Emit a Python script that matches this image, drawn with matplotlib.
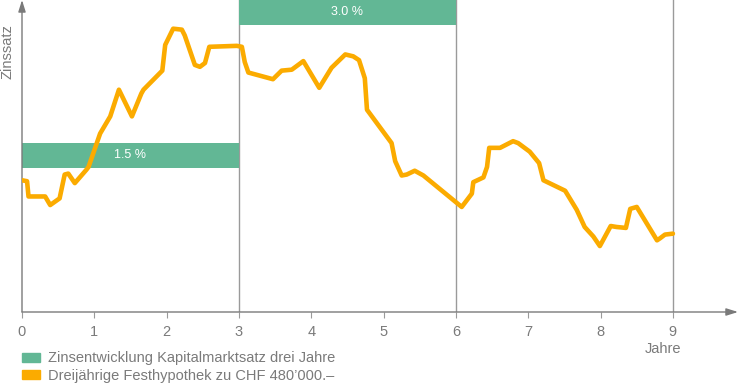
import matplotlib.pyplot as plt
from matplotlib.patches import Patch

plt.rcParams['font.family'] = ['Liberation Sans', 'DejaVu Sans']

# Dreijährige Festhypothek (Zinssatz in %, Jahre)
years = [0.00, 0.07, 0.09, 0.32, 0.39, 0.52, 0.59, 0.64, 0.73, 0.89, 0.92,
         1.08, 1.22, 1.34, 1.52, 1.65, 1.68, 1.94, 1.98, 2.09, 2.21, 2.25,
         2.39, 2.46, 2.53, 2.59, 2.97, 3.04, 3.08, 3.13, 3.47, 3.59, 3.73,
         3.89, 4.11, 4.28, 4.47, 4.58, 4.66, 4.74, 4.77, 5.11, 5.16, 5.25,
         5.32, 5.43, 5.55, 6.08, 6.22, 6.24, 6.38, 6.43, 6.46, 6.61, 6.79,
         6.86, 7.02, 7.15, 7.21, 7.51, 7.67, 7.78, 7.90, 7.99, 8.14, 8.22,
         8.35, 8.41, 8.50, 8.78, 8.82, 8.89, 9.00]
rate = [1.24, 1.23, 1.07, 1.07, 0.98, 1.05, 1.30, 1.31, 1.21, 1.35, 1.38,
        1.73, 1.91, 2.19, 1.91, 2.15, 2.19, 2.39, 2.66, 2.83, 2.82, 2.76,
        2.45, 2.43, 2.47, 2.64, 2.65, 2.64, 2.48, 2.37, 2.30, 2.39, 2.40,
        2.49, 2.21, 2.42, 2.56, 2.54, 2.50, 2.31, 1.98, 1.63, 1.44, 1.29,
        1.30, 1.34, 1.29, 0.96, 1.10, 1.22, 1.27, 1.38, 1.58, 1.58, 1.65,
        1.63, 1.54, 1.42, 1.24, 1.13, 0.93, 0.75, 0.65, 0.55, 0.76, 0.75,
        0.74, 0.94, 0.96, 0.61, 0.63, 0.67, 0.68]

# Kapitalmarktsatz drei Jahre
period_start = [0, 3]
period_end = [3, 6]
period_rate = [1.5, 3.0]
period_labels = ['1.5 %', '3.0 %']

xticks = list(range(10))

green = '#62b795'
orange = '#fbab00'
grey = '#7a7a7a'

fig = plt.figure(figsize=(7.38, 3.83), dpi=100)
ax = fig.add_axes([22 / 738, 1 - 312 / 383, 716 / 738, 312 / 383])
ax.set_xlim(0, 9.9)
ax.set_ylim(-0.142, 3.131)

bar_h = 0.262
for s, e, r, lab in zip(period_start, period_end, period_rate, period_labels):
    ax.bar(s, bar_h, width=e - s, bottom=r - bar_h / 2, align='edge',
           color=green, linewidth=0, zorder=2)
    ax.text((s + e) / 2, r, lab, color='white', fontsize=9,
            ha='center', va='center', zorder=3)

for xv in [3, 6, 9]:
    ax.axvline(xv, color='#9a9a9a', linewidth=1.0, zorder=1)

ax.plot(years, rate, color=orange, linewidth=3.3, solid_joinstyle='round',
        solid_capstyle='round', zorder=4)

for s in ax.spines.values():
    s.set_visible(False)
ax.annotate('', xy=(1.0, 0), xytext=(0, 0), xycoords='axes fraction',
            arrowprops=dict(arrowstyle='-|>,head_length=0.7,head_width=0.22',
                            color=grey, lw=1.0, shrinkA=0, shrinkB=0))
ax.annotate('', xy=(0, 1.0), xytext=(0, 0), xycoords='axes fraction',
            arrowprops=dict(arrowstyle='-|>,head_length=0.7,head_width=0.22',
                            color=grey, lw=1.0, shrinkA=0, shrinkB=0))

ax.set_xticks(xticks)
ax.set_xticklabels([str(t) for t in xticks])
ax.set_yticks([])
ax.tick_params(axis='x', length=4, width=0.8, color='#9a9a9a', pad=5,
               labelsize=10.5, labelcolor=grey)

fig.text(663 / 738, 1 - 349 / 383, 'Jahre', fontsize=10.5, color=grey,
         ha='center', va='center')
fig.text(8 / 738, 1 - 52 / 383, 'Zinssatz', fontsize=10.5, color=grey,
         ha='center', va='center', rotation=90)

handles = [Patch(color=green, label='Zinsentwicklung Kapitalmarktsatz drei Jahre'),
           Patch(color=orange, label='Dreijährige Festhypothek zu CHF 480\u2019000.\u2013')]
fig.legend(handles=handles, loc='lower left', bbox_to_anchor=(22 / 738, 0.0),
           frameon=False, fontsize=10.5, labelcolor=grey, handlelength=1.25,
           handleheight=0.55, handletextpad=0.55, labelspacing=0.25,
           borderpad=0.0, borderaxespad=0.0)

fig.savefig('out.png', dpi=100)
